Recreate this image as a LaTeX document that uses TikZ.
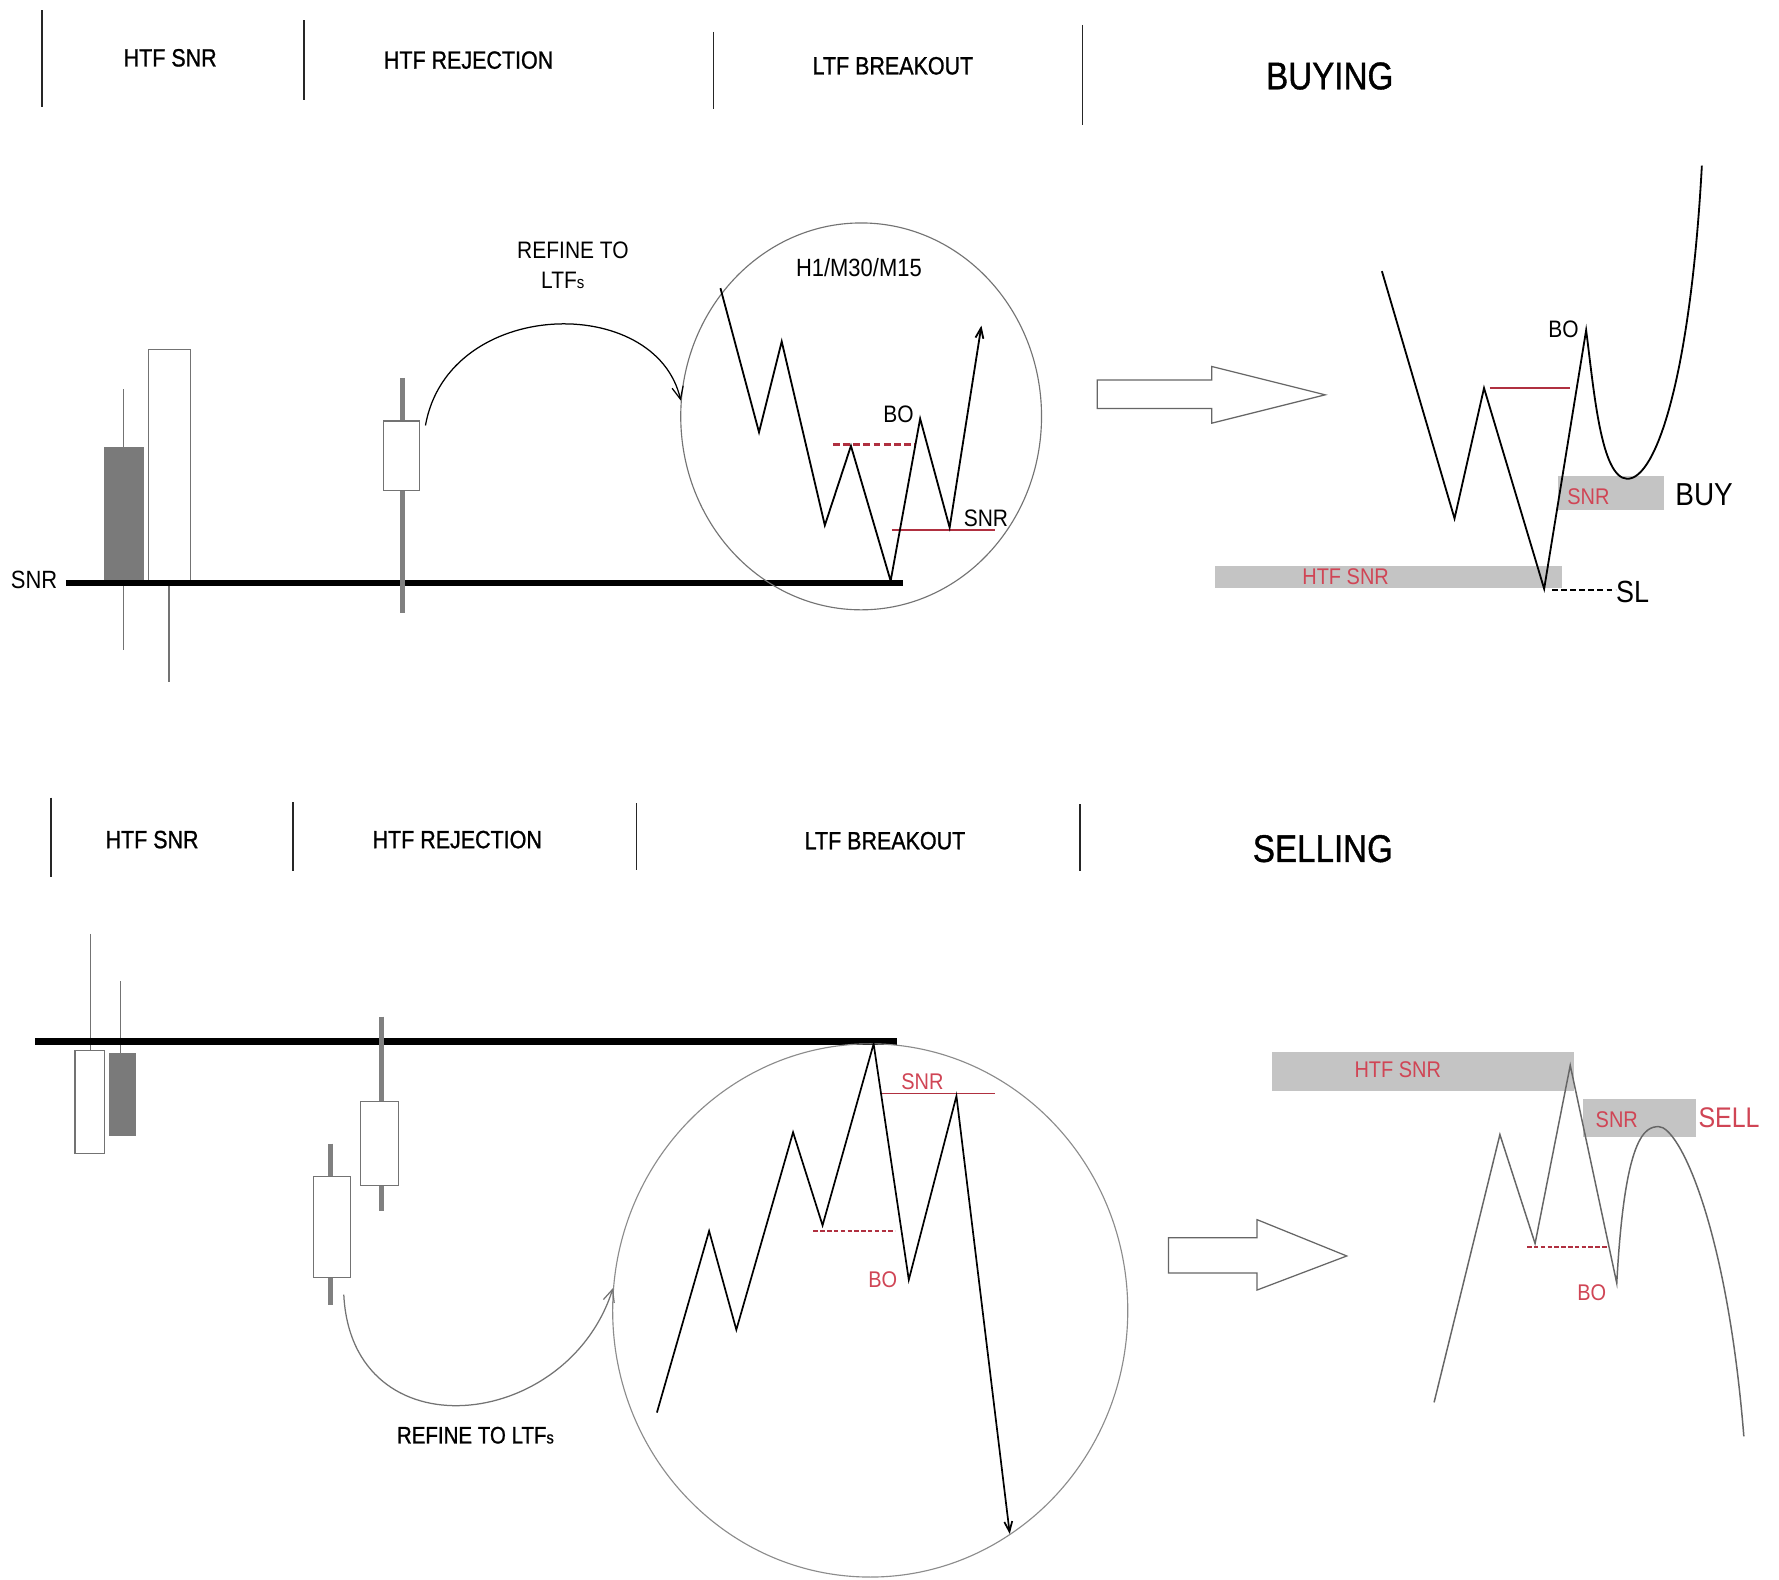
\documentclass[tikz,border=0pt]{standalone}
\usepackage{fontspec}
\setmainfont[FakeStretch=0.88]{Liberation Sans}
\newfontfamily\hdrfont[FakeStretch=0.86,FakeBold=1]{Liberation Sans}
\usetikzlibrary{arrows.meta,shapes.geometric}
\definecolor{redtxt}{HTML}{D04555}
\definecolor{redln}{HTML}{B03040}
\definecolor{boxgray}{HTML}{C4C4C4}
\definecolor{candlegray}{HTML}{7A7A7A}
\newcommand\fsz[1]{\fontsize{#1}{#1}\selectfont}
\begin{document}
\begin{tikzpicture}[x=1pt,y=-1pt,
  tx/.style={inner sep=0pt,outer sep=0pt,text=black},
  hdr/.style={tx,font=\hdrfont\fsz{22}},
  big/.style={tx,font=\hdrfont\fsz{34}},
  lab/.style={tx,font=\fsz{21}},
  rlab/.style={tx,font=\fsz{20},text=redtxt},
  sepline/.style={line width=1.4pt,draw=black!85},
  snrline/.style={line width=5.5pt,draw=black},
  thinwick/.style={line width=1.2pt,draw=black!55},
  thickwick/.style={line width=4.5pt,draw=black!50},
  candle/.style={rectangle,inner sep=0pt,outer sep=0pt,line width=1.1pt,draw=black!55,fill=white},
  darkcandle/.style={candle,fill=candlegray,draw=candlegray},
  zoomcirc/.style={ellipse,inner sep=0pt,line width=1pt,draw=black!55},
  zig/.style={line width=1.6pt,draw=black,line join=miter},
  zigtwo/.style={line width=1.3pt,draw=black!60},
  refine/.style={line width=1.1pt,draw=black,-{Straight Barb[length=11pt,width=10pt]}},
  blockarrow/.style={line width=1.1pt,draw=black!60,fill=white},
  zonebox/.style={rectangle,inner sep=0pt,outer sep=0pt,fill=boxgray},
  reddash/.style={line width=2.6pt,draw=redln,dash pattern=on 6pt off 3pt},
  redthin/.style={line width=1.4pt,draw=redln},
  reddashthin/.style={line width=1.3pt,draw=redln,dash pattern=on 4pt off 2pt},
]
\useasboundingbox (0,0) rectangle (1568,1392);
\fill[white] (0,0) rectangle (1568,1392);

% ---------------- top header ----------------
\draw[sepline] (37,9) -- (37,94);
\draw[sepline] (268,18) -- (268,88);
\draw[sepline] (629,28) -- (629,96);
\draw[sepline] (954,22) -- (954,110);
\node[hdr] (h1) at (150,51) {HTF SNR};
\node[hdr] (h2) at (413,53) {HTF REJECTION};
\node[hdr] (h3) at (787,58) {LTF BREAKOUT};
\node[big] (buying) at (1172,67) {BUYING};

% ---------------- buying: candles ----------------
\draw[thinwick] (109,343) -- (109,573);
\draw[thinwick] (149,500) -- (149,601);
\node[darkcandle,minimum width=34pt,minimum height=118pt] (bc1) at (109,453.5) {};
\node[candle,minimum width=37pt,minimum height=205pt] (bc2) at (149.5,410.5) {};
\draw[snrline] (58,514) -- (796,514);
\draw[thickwick] (354.5,333) -- (354.5,540);
\node[candle,minimum width=32pt,minimum height=61pt] (rej1) at (354,401.5) {};
\node[tx,font=\fsz{22}] (snrleft) at (30,511) {SNR};

% zoom circle
\node[zoomcirc,minimum width=318pt,minimum height=341pt] (circ1) at (759,367) {};
\coordinate (arc1s) at ([xshift=5pt,yshift=-4pt]rej1.north east);
\draw[refine] (arc1s) .. controls (395,262) and (578,258) .. (circ1.175);
\node[lab] (ref1a) at (505,221) {REFINE TO};
\node[lab] (ref1b) at (496,247) {LTF{\fsz{15}s}};
\node[lab,font=\fsz{22}] (tf) at (757,236) {H1/M30/M15};

\draw[reddash] (734,392) -- (807,392);
\draw[redthin] (786,467) -- (877,467);
\draw[zig,-{Straight Barb[length=9pt,width=7pt]}] (635,254) -- (669,381) -- (689,301) -- (727,463) -- (750,393) -- (785,512) -- (811,369) -- (837,465) -- (865,287);
\node[lab] (bo1) at (792,365) {BO};
\node[lab] (snr1) at (869,457) {SNR};

% block arrow
\draw[blockarrow] (967,335) -- (1068,335) -- (1068,323) -- (1168,348) -- (1068,373) -- (1068,360) -- (967,360) -- cycle;

% buying result chart
\node[zonebox,minimum width=306pt,minimum height=20pt] (htfbox1) at (1224,508.5) {};
\node[zonebox,minimum width=94pt,minimum height=30pt] (snrbox1) at (1420,434.5) {};
\node[rlab] (htft1) at (1186,508) {HTF SNR};
\node[rlab] (snrt1) at (1400,437.5) {SNR};
\draw[redthin] (1313,342) -- (1384,342);
\draw[zig] (1218,239) -- (1282,457) -- (1308,342) -- (1361,519) -- (1398,291)
  .. controls (1405,345) and (1411,421) .. (1434,422)
  .. controls (1460,423) and (1490,330) .. (1500,146);
\draw[line width=1.3pt,dash pattern=on 5pt off 3pt] (1368,520) -- (1424,520);
\node[lab] (bo2) at (1378,290) {BO};
\node[tx,font=\fsz{28}] (buy) at (1502,436) {BUY};
\node[tx,font=\fsz{27}] (sl) at (1439,522) {SL};

% ---------------- middle header ----------------
\draw[sepline] (45,703) -- (45,773);
\draw[sepline] (258,707) -- (258,768);
\draw[sepline] (561,708) -- (561,767);
\draw[sepline] (952,709) -- (952,768);
\node[hdr] (m1) at (134,740) {HTF SNR};
\node[hdr] (m2) at (403,740) {HTF REJECTION};
\node[hdr] (m3) at (780,741) {LTF BREAKOUT};
\node[big] (selling) at (1166,748) {SELLING};

% ---------------- selling: candles ----------------
\draw[thinwick] (80,823) -- (80,930);
\draw[thinwick] (106,865) -- (106,930);
\draw[snrline] (31,918) -- (791,918);
\node[candle,minimum width=26pt,minimum height=91pt] (sc1) at (79,971.5) {};
\node[darkcandle,minimum width=23pt,minimum height=72pt] (sc2) at (108,965) {};
\draw[thickwick] (336,896) -- (336,1067);
\draw[thickwick] (291,1008) -- (291,1150);
\node[candle,minimum width=33pt,minimum height=74pt] (rej2a) at (334.5,1008) {};
\node[candle,minimum width=33pt,minimum height=89pt] (rej2b) at (292.5,1081.5) {};

\node[zoomcirc,draw=black!45,minimum width=454pt,minimum height=470pt] (circ2) at (767,1155) {};
\coordinate (arc2s) at ([xshift=-6pt,yshift=-15pt]rej2b.south east);
\draw[refine,draw=black!55] (arc2s) .. controls (310,1282) and (500,1262) .. (circ2.175);
\node[lab,font=\hdrfont\fsz{21}] (ref2) at (419,1265) {REFINE TO LTF{\fsz{15}s}};

\draw[reddashthin] (717,1085) -- (789,1085);
\draw[redthin,line width=1.2pt] (777,964) -- (877,964);
\draw[zig,line width=1.5pt,-{Straight Barb[length=9pt,width=7pt]}] (579,1245) -- (625,1085) -- (649,1172) -- (699,998) -- (725,1080) -- (770,920) -- (801,1128) -- (843,966) -- (890,1352);
\node[rlab] (snr3) at (813,953) {SNR};
\node[rlab] (bo3) at (778,1128) {BO};

% block arrow 2
\draw[blockarrow] (1030,1091) -- (1108,1091) -- (1108,1075) -- (1187,1107) -- (1108,1137) -- (1108,1122) -- (1030,1122) -- cycle;

% selling result chart
\node[zonebox,minimum width=266pt,minimum height=35pt] (htfbox2) at (1254,944.5) {};
\node[zonebox,minimum width=100pt,minimum height=34pt] (snrbox2) at (1445,985.5) {};
\node[rlab] (htft2) at (1232,943) {HTF SNR};
\node[rlab] (snrt2) at (1425,987) {SNR};
\node[rlab,font=\fsz{25}] (sell) at (1524,985) {SELL};
\draw[reddashthin] (1346,1099) -- (1417,1099);
\draw[zigtwo] (1264,1236) -- (1322,1000) -- (1353,1096) -- (1384,939) -- (1425,1131)
  .. controls (1432,1000) and (1450,993) .. (1462,993)
  .. controls (1480,993) and (1522,1080) .. (1537,1266);
\node[rlab] (bo4) at (1403,1139) {BO};
\end{tikzpicture}
\end{document}
